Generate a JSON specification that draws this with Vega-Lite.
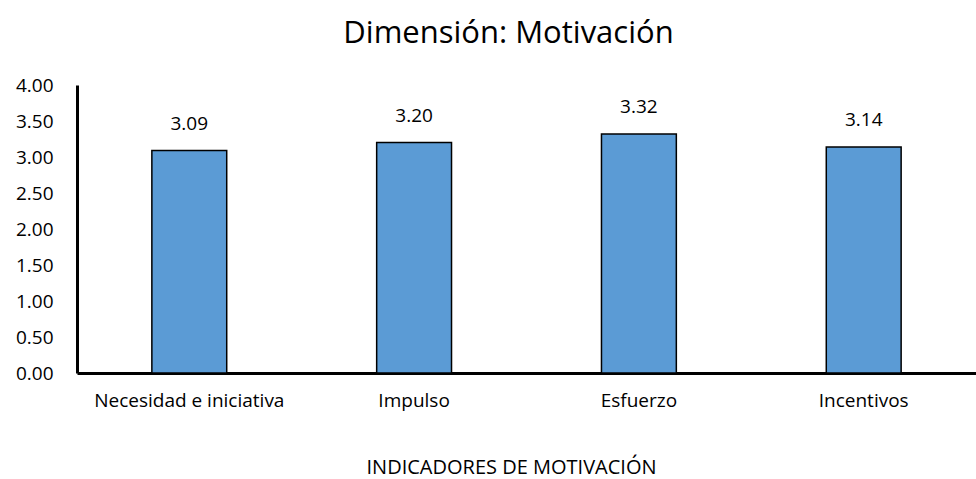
{
  "$schema": "https://vega.github.io/schema/vega-lite/v6.json",
  "width": 899,
  "height": 288,
  "autosize": "none",
  "padding": {"left": 77, "top": 85, "right": 0, "bottom": 106},
  "background": "white",
  "config": {"view": {"stroke": null}, "font": "Open Sans"},
  "title": {"text": "Dimensión: Motivación", "fontSize": 31, "fontWeight": "normal", "font": "Open Sans", "color": "#000000", "anchor": "middle", "dx": -18, "offset": 26},
  "data": {"values": [
    {"indicador": "Necesidad e iniciativa", "valor": 3.09},
    {"indicador": "Impulso", "valor": 3.20},
    {"indicador": "Esfuerzo", "valor": 3.32},
    {"indicador": "Incentivos", "valor": 3.14}
  ]},
  "encoding": {
    "x": {"field": "indicador", "type": "nominal", "sort": null,
      "scale": {"paddingInner": 0.667, "paddingOuter": 0.333},
      "axis": {"title": "INDICADORES DE MOTIVACIÓN", "labelAngle": 0, "labelFontSize": 19, "labelLimit": 0, "labelColor": "#000", "labelPadding": 18, "ticks": false, "domainColor": "#000", "domainWidth": 3, "titleFontSize": 20, "titleFontWeight": "normal", "titleColor": "#000", "titleX": 434, "titleY": 100, "titleBaseline": "alphabetic"}},
    "y": {"field": "valor", "type": "quantitative", "scale": {"domain": [0, 4]},
      "axis": {"title": null, "values": [0, 0.5, 1, 1.5, 2, 2.5, 3, 3.5, 4], "format": ".2f", "grid": false, "ticks": false, "labelFontSize": 19, "labelColor": "#000", "labelPadding": 24, "domainColor": "#000", "domainWidth": 3}}
  },
  "layer": [
    {"mark": {"type": "bar", "color": "#5B9BD5", "stroke": "#000", "strokeWidth": 1.5}},
    {"mark": {"type": "text", "fontSize": 19, "dy": -27, "color": "#000"}, "encoding": {"text": {"field": "valor", "format": ".2f"}}}
  ]
}
